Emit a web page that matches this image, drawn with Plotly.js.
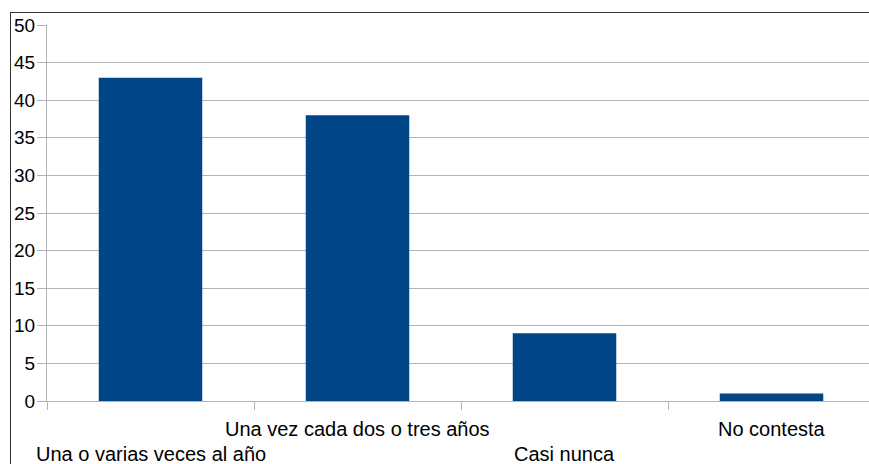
<!DOCTYPE html>
<html>
<head>
<meta charset="utf-8">
<script src="https://cdn.plot.ly/plotly-3.0.1.min.js"></script>
<style>
html,body{margin:0;padding:0;background:#fff;}
#wrap{position:relative;width:869px;height:464px;overflow:hidden;}
#chart{position:absolute;left:0;top:0;width:869px;height:464px;}
#frame{position:absolute;left:10px;top:12px;width:900px;height:500px;border-left:1px solid #333;border-top:1px solid #333;pointer-events:none;}
</style>
</head>
<body>
<div id="wrap"><div id="chart"></div><div id="frame"></div></div>
<script>
var categories = ["Una o varias veces al año", "Una vez cada dos o tres años", "Casi nunca", "No contesta"];
var values = [43, 38, 9, 1];
var labelRow = [1, 0, 1, 0]; // 0 = upper row, 1 = lower row

var idx = categories.map(function(c, i){ return i; });
var grid = '#b3b3b3';
var font = {family: 'Liberation Sans, Arial, sans-serif', size: 20, color: '#000'};
var yfont = {family: 'Liberation Sans, Arial, sans-serif', size: 19, color: '#000'};

var trace = {
  type: 'bar',
  x: idx,
  y: values,
  width: 0.5,
  marker: {color: '#004586', line: {width: 0}},
  hoverinfo: 'skip'
};

var annotations = categories.map(function(c, i){
  return {
    x: i, xref: 'x', y: labelRow[i] === 0 ? -0.075 : -0.142, yref: 'paper',
    text: c, showarrow: false, xanchor: 'center', yanchor: 'middle',
    font: font
  };
});

var layout = {
  width: 869, height: 464,
  margin: {l: 47, r: 0, t: 25, b: 63},
  paper_bgcolor: '#fff', plot_bgcolor: '#fff',
  showlegend: false,
  font: font,
  xaxis: {
    range: [-0.5, 3.471],
    tickvals: [-0.5, 0.5, 1.5, 2.5, 3.5],
    showticklabels: false,
    ticks: 'outside', ticklen: 8, tickcolor: grid, tickwidth: 1,
    showgrid: false, zeroline: false,
    showline: true, linecolor: grid, linewidth: 1
  },
  yaxis: {
    range: [0, 50],
    dtick: 5,
    ticks: 'outside', ticklen: 9, tickcolor: grid, tickwidth: 1,
    ticklabelstandoff: -2,
    showgrid: true, gridcolor: grid, gridwidth: 1,
    zeroline: false,
    showline: true, linecolor: grid, linewidth: 1,
    tickfont: yfont
  },
  annotations: annotations
};

Plotly.newPlot('chart', [trace], layout, {staticPlot: true, displayModeBar: false});
</script>
</body>
</html>
